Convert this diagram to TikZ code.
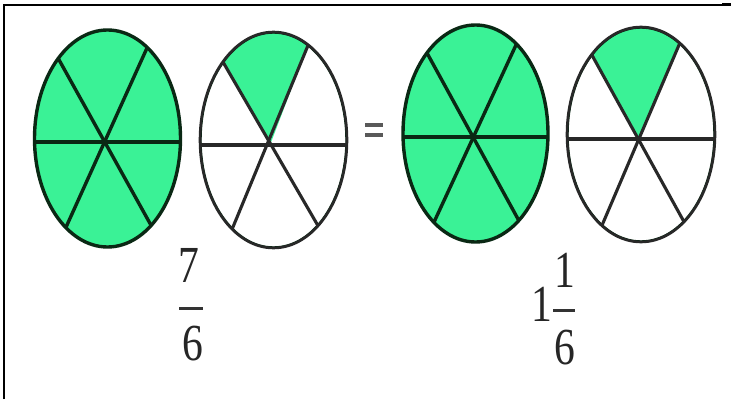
\documentclass[tikz,border=0pt]{standalone}
\usepackage{fontspec}
\setmainfont{Liberation Serif}
\usetikzlibrary{calc}
\definecolor{fgreen}{RGB}{58,242,150}
\definecolor{dgreen}{RGB}{10,40,20}
\definecolor{dgray}{RGB}{40,40,40}
\newcommand\mkspokes[5]{%
  \draw[spoke] ($(#2)!-0.5!(#3)$) -- ($(#2)!1.5!(#3)$);
  \draw[spoke] ($(#4)!-0.5!(#5)$) -- ($(#4)!1.5!(#5)$);
  \draw[spoke] ($(#1)+(-120,0)$) -- ($(#1)+(120,0)$);
}
\begin{document}
\begin{tikzpicture}[x=1pt,y=-1pt,
  num/.style={inner sep=0pt, font=\fontsize{52}{52}\selectfont, text=black!85},
  fracbar/.style={line width=3pt, draw=black!80},
  eqbar/.style={line width=3.5pt, draw=black!65},
  greenoval/.style={fill=fgreen},
  whiteoval/.style={fill=white},
  greenrim/.style={draw=dgreen, line width=3.4pt},
  whiterim/.style={draw=dgray, line width=2.6pt},
  spoke/.style={line width=3.4pt, draw=dgreen}]
\useasboundingbox (0,0) rectangle (731,399);
\fill[white] (0,0) rectangle (731,399);
% frame
\draw[line width=2pt] (4,399) -- (4,5) -- (723,5);
\draw[line width=3pt] (722,4.5) -- (731,4.5);

% ---- oval 1 (all green)
\coordinate (o1) at (107.5,138.5);
\coordinate (c1) at (104,142);
\coordinate (ul1) at (58,58); \coordinate (lr1) at (152,227);
\coordinate (ur1) at (147,48); \coordinate (ll1) at (67,225);
\fill[greenoval] (o1) ellipse [x radius=73pt, y radius=108.5pt];
\begin{scope}
  \clip (o1) ellipse [x radius=73pt, y radius=108.5pt];
  \mkspokes{c1}{ul1}{lr1}{ur1}{ll1}
\end{scope}
\draw[greenrim] (o1) ellipse [x radius=73pt, y radius=108.5pt];

% ---- oval 2 (one sixth)
\coordinate (o2) at (273.5,140);
\coordinate (c2) at (270,145);
\coordinate (ul2) at (223,62); \coordinate (lr2) at (317,224);
\coordinate (ur2) at (309,43); \coordinate (ll2) at (233,227);
\fill[whiteoval] (o2) ellipse [x radius=73.5pt, y radius=108pt];
\begin{scope}
  \clip (o2) ellipse [x radius=73.5pt, y radius=108pt];
  \fill[fgreen] (c2) -- ($(c2)!3!(ul2)$) -- ($(c2)!3!(ur2)$) -- cycle;
  \draw[greenrim] (o2) ellipse [x radius=73.5pt, y radius=108pt];
  \begin{scope}[spoke/.style={line width=3.1pt, draw=dgray}]
    \mkspokes{c2}{ul2}{lr2}{ur2}{ll2}
  \end{scope}
\end{scope}
\draw[whiterim] (o2) ellipse [x radius=73.5pt, y radius=108pt];

% ---- equals sign
\coordinate (eqL) at (365,125); \coordinate (eqR) at (383,125);
\coordinate (eqL2) at (365,135); \coordinate (eqR2) at (383,135);
\draw[eqbar] (eqL) -- (eqR);
\draw[eqbar] (eqL2) -- (eqR2);

% ---- oval 3 (all green)
\coordinate (o3) at (475.5,133.5);
\coordinate (c3) at (473,137);
\coordinate (ul3) at (427,53); \coordinate (lr3) at (518,219);
\coordinate (ur3) at (516,45); \coordinate (ll3) at (435,220);
\fill[greenoval] (o3) ellipse [x radius=72.5pt, y radius=108.5pt];
\begin{scope}
  \clip (o3) ellipse [x radius=72.5pt, y radius=108.5pt];
  \mkspokes{c3}{ul3}{lr3}{ur3}{ll3}
\end{scope}
\draw[greenrim] (o3) ellipse [x radius=72.5pt, y radius=108.5pt];

% ---- oval 4 (one sixth)
\coordinate (o4) at (641,134.5);
\coordinate (c4) at (639,139);
\coordinate (ul4) at (593,57); \coordinate (lr4) at (683,220);
\coordinate (ur4) at (679,45); \coordinate (ll4) at (603,223);
\fill[whiteoval] (o4) ellipse [x radius=74pt, y radius=107.5pt];
\begin{scope}
  \clip (o4) ellipse [x radius=74pt, y radius=107.5pt];
  \fill[fgreen] (c4) -- ($(c4)!3!(ul4)$) -- ($(c4)!3!(ur4)$) -- cycle;
  \draw[greenrim] (o4) ellipse [x radius=74pt, y radius=107.5pt];
  \begin{scope}[spoke/.style={line width=3.1pt, draw=dgray}]
    \mkspokes{c4}{ul4}{lr4}{ur4}{ll4}
  \end{scope}
\end{scope}
\draw[whiterim] (o4) ellipse [x radius=74pt, y radius=107.5pt];

% ---- fraction 7/6
\node[num] (n7) at (189,265.5) {\scalebox{0.8}[1]{7}};
\coordinate (b1l) at (179,308); \coordinate (b1r) at (203,308);
\draw[fracbar] (b1l) -- (b1r);
\node[num] (d6a) at (192.5,344) {\scalebox{0.8}[1]{6}};

% ---- mixed number 1 1/6
\node[num] (w1) at (542,304.5) {\scalebox{0.8}[1]{1}};
\node[num] (n1) at (564.5,270) {\scalebox{0.8}[1]{1}};
\coordinate (b2l) at (553,310); \coordinate (b2r) at (575,310);
\draw[fracbar] (b2l) -- (b2r);
\node[num] (d6b) at (564.5,348) {\scalebox{0.8}[1]{6}};
\end{tikzpicture}
\end{document}
